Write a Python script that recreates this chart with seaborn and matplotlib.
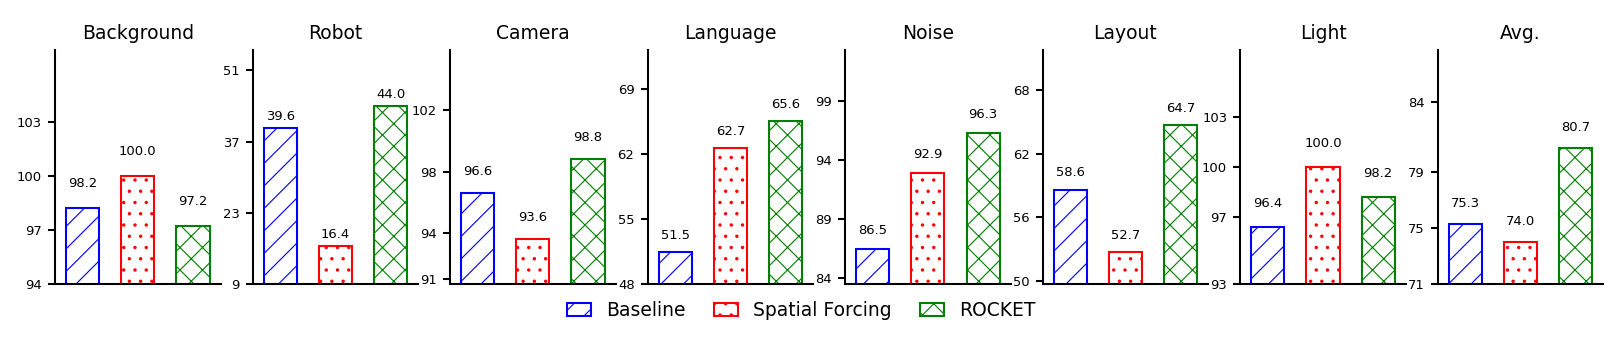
import matplotlib
matplotlib.use("Agg")
import matplotlib.pyplot as plt
from matplotlib.patches import Patch
import seaborn as sns
import pandas as pd

# ---- data ----
categories = ["Background", "Robot", "Camera", "Language", "Noise", "Layout", "Light", "Avg."]
methods = ["Baseline", "Spatial Forcing", "ROCKET"]
baseline = [98.2, 39.6, 96.6, 51.5, 86.5, 58.6, 96.4, 75.3]
spatial_forcing = [100.0, 16.4, 93.6, 62.7, 92.9, 52.7, 100.0, 74.0]
rocket = [97.2, 44.0, 98.8, 65.6, 96.3, 64.7, 98.2, 80.7]

y_limits = [(94, 107), (9, 55), (90.7, 105.9), (48, 73.2),
            (83.5, 103.3), (49.7, 71.8), (93, 107), (71, 87.7)]
y_ticks = [[94, 97, 100, 103], [9, 23, 37, 51], [91, 94, 98, 102], [48, 55, 62, 69],
           [84, 89, 94, 99], [50, 56, 62, 68], [93, 97, 100, 103], [71, 75, 79, 84]]

colors = ["blue", "red", "green"]
hatches = ["//", "..", "xx"]

rows = []
for i, cat in enumerate(categories):
    for m, vals in zip(methods, [baseline, spatial_forcing, rocket]):
        rows.append({"category": cat, "method": m, "value": vals[i]})
df = pd.DataFrame(rows)

plt.rcParams["font.family"] = ["DejaVu Sans"]
plt.rcParams["hatch.linewidth"] = 0.6

DPI = 135
fig, axes = plt.subplots(1, 8, figsize=(1622 / DPI, 349 / DPI), dpi=DPI)
fig.subplots_adjust(left=0.0339, right=0.9885, top=0.8567, bottom=0.1862, wspace=0.193)

palette = dict(zip(methods, colors))
for ax, cat, ylim, ticks in zip(axes, categories, y_limits, y_ticks):
    sub = df[df["category"] == cat]
    sns.barplot(data=sub, x="method", y="value", hue="method", order=methods,
                hue_order=methods, palette=palette, width=0.6, fill=False,
                legend=False, ax=ax, errorbar=None)
    for p, c, h in zip(ax.patches, colors, hatches):
        p.set_facecolor("none")
        p.set_edgecolor(c)
        p.set_hatch(h)
        p.set_linewidth(1.1)
        x = p.get_x() + p.get_width() / 2
        v = p.get_height()
        ax.text(x, v + 1, f"{v:.1f}", ha="center", va="bottom", fontsize=7, color="black")
    ax.set_ylim(*ylim)
    ax.set_xlim(-0.5, 2.5)
    ax.set_yticks(ticks)
    ax.set_yticklabels([str(t) for t in ticks])
    ax.set_xticks([])
    ax.set_xlabel("")
    ax.set_ylabel("")
    ax.set_title(cat, fontsize=10)
    ax.tick_params(axis="y", labelsize=7, width=1.1, length=3.5, color="black")
    sns.despine(ax=ax)
    for s in ["left", "bottom"]:
        ax.spines[s].set_linewidth(1.1)
        ax.spines[s].set_color("black")

handles = [Patch(facecolor="none", edgecolor=c, hatch=h, linewidth=1.1, label=m)
           for m, c, h in zip(methods, colors, hatches)]
fig.legend(handles=handles, loc="center", bbox_to_anchor=(0.494, 0.109), ncol=3,
           frameon=False, fontsize=10, handlelength=1.3, columnspacing=1.5)

fig.savefig("out.png", dpi=DPI)
